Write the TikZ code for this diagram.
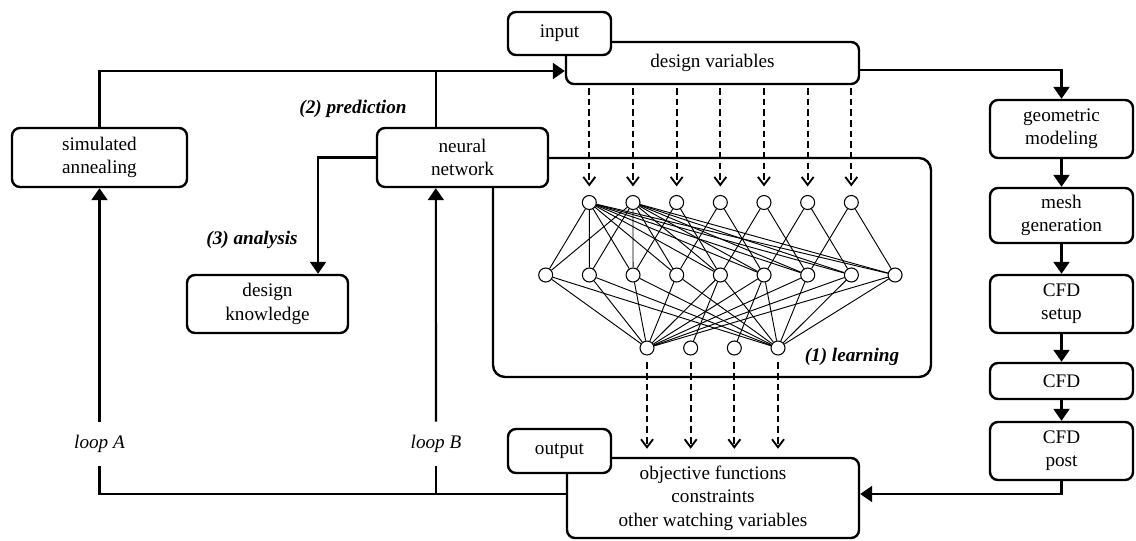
\documentclass[tikz,border=0pt]{standalone}
\usepackage{fontspec}
\setmainfont{Liberation Serif}
\usetikzlibrary{arrows.meta}

\begin{document}
\begin{tikzpicture}[x=0.75pt,y=-0.75pt,
  font=\fontsize{14.4}{17.5}\selectfont,
  box/.style={draw, line width=1.8pt, rounded corners=6pt, fill=white, align=center, inner sep=0pt},
  frame/.style={draw, line width=1.8pt, rounded corners=9pt, inner sep=0pt},
  wire/.style={line width=1.6pt},
  flow/.style={line width=1.6pt, -{Triangle[length=9pt,width=12pt]}},
  neuron/.style={circle, draw, line width=0.8pt, fill=white, minimum size=10.5pt, inner sep=0pt},
  syn/.style={line width=0.7pt},
  feed/.style={line width=1.5pt, dash pattern=on 5pt off 3pt, -{Straight Barb[length=6pt,width=9pt,line width=1.4pt]}},
  tag/.style={font=\fontsize{14.4}{17.5}\selectfont\bfseries\itshape, inner sep=0pt},
  looptag/.style={font=\fontsize{14.4}{17.5}\selectfont\itshape, inner sep=0pt, minimum height=33pt}
]
\useasboundingbox (0,0) rectangle (1136,540);

% frame around the network
\node[frame, minimum width=328.5pt, minimum height=164.25pt] (net) at (712,267.5) {};

% optimisation / surrogate boxes
\node[box, minimum width=131.25pt, minimum height=44.25pt] (sa) at (99.5,157.5) {simulated\\annealing};
\node[box, minimum width=128.25pt, minimum height=44.25pt] (nn) at (462.5,157.5) {neural\\network};
\node[box, minimum width=120.75pt, minimum height=43.5pt] (dk) at (267.5,304) {design\\knowledge};

% input / output
\node[box, minimum width=219.75pt, minimum height=31.5pt] (dv) at (712.5,63) {design variables};
\node[box, minimum width=77.25pt, minimum height=32.25pt] (in) at (559.5,33.5) {input};
\node[box, minimum width=219pt, minimum height=60pt] (out) at (713,498) {objective functions\\constraints\\other watching variables};
\node[box, minimum width=77.25pt, minimum height=33pt] (outl) at (559.5,451) {output};

% CFD chain
\node[box, minimum width=107.25pt, minimum height=43.5pt] (geo) at (1061.5,129) {geometric\\modeling};
\node[box, minimum width=107.25pt, minimum height=41.25pt] (mesh) at (1061.5,215.5) {mesh\\generation};
\node[box, minimum width=107.25pt, minimum height=43.5pt] (setup) at (1061.5,304) {CFD\\setup};
\node[box, minimum width=107.25pt, minimum height=27pt] (cfd) at (1061.5,381) {CFD};
\node[box, minimum width=107.25pt, minimum height=43.5pt] (post) at (1061.5,451) {CFD\\post};

% labels
\node[tag] (pred) at (353,109) {(2) prediction};
\node[tag] (anal) at (252,240) {(3) analysis};
\node[tag] (learn) at (852,357) {(1) learning};
\node[looptag] (loopA) at (99.5,444) {loop A};
\node[looptag] (loopB) at (436,444) {loop B};

% upper bus into the design variables
\coordinate (nnup) at ([xshift=-20pt]nn.north);
\coordinate (nndown) at ([xshift=-20pt]nn.south);
\coordinate (dvin) at ([yshift=-6pt]dv.west);
\draw[flow] (sa.north) |- (dvin);
\draw[wire] (nnup) -- (nnup |- dvin);

% design variables to the CFD chain
\draw[flow] ([yshift=-5.25pt]dv.east) -| (geo.north);
\draw[flow] (geo) -- (mesh);
\draw[flow] (mesh) -- (setup);
\draw[flow] (setup) -- (cfd);
\draw[flow] (cfd) -- (post);
\coordinate (busR) at ([yshift=3pt]out.east);
\coordinate (busL) at ([yshift=3pt]out.west);
\draw[flow] (post.south) |- (busR);

% loops back to the optimiser and the network
\draw[wire] (busL) -| (loopA.south);
\draw[flow] (loopA.north) -- (sa.south);
\draw[wire] (loopB.south) -- (loopB.south |- busL);
\draw[flow] (loopB.north) -- (nndown);

% analysis
\draw[flow] (nn.west) -| ([xshift=37.9pt]dk.north);

% network nodes
\foreach \i in {1,...,7} \node[neuron] (t\i) at ({589.3+43.67*(\i-1)},202.5) {};
\foreach \j in {0,...,8} \node[neuron] (m\j) at ({545.7+43.67*\j},275) {};
\foreach \k in {1,...,4} \node[neuron] (b\k) at ({647+43.67*(\k-1)},348) {};

% network weights
\foreach \i in {1,2} \foreach \j in {0,...,8} \draw[syn] (t\i) -- (m\j);
\foreach \i/\a/\b in {3/2/4,4/3/5,5/4/6,6/5/7,7/6/8} {
  \draw[syn] (t\i) -- (m\a);
  \draw[syn] (t\i) -- (m\b);
}
\foreach \k in {1,4} \foreach \j in {0,...,8} \draw[syn] (b\k) -- (m\j);
\draw[syn] (b2) -- (m4);
\draw[syn] (b3) -- (m5);

% data flowing into and out of the network
\foreach \i in {1,...,7} \draw[feed, shorten <=2pt, shorten >=6.4pt] (dv.south -| t\i) -- (t\i);
\foreach \k in {1,...,4} \draw[feed, shorten <=5pt, shorten >=6pt] (b\k) -- (out.north -| b\k);
\end{tikzpicture}
\end{document}
